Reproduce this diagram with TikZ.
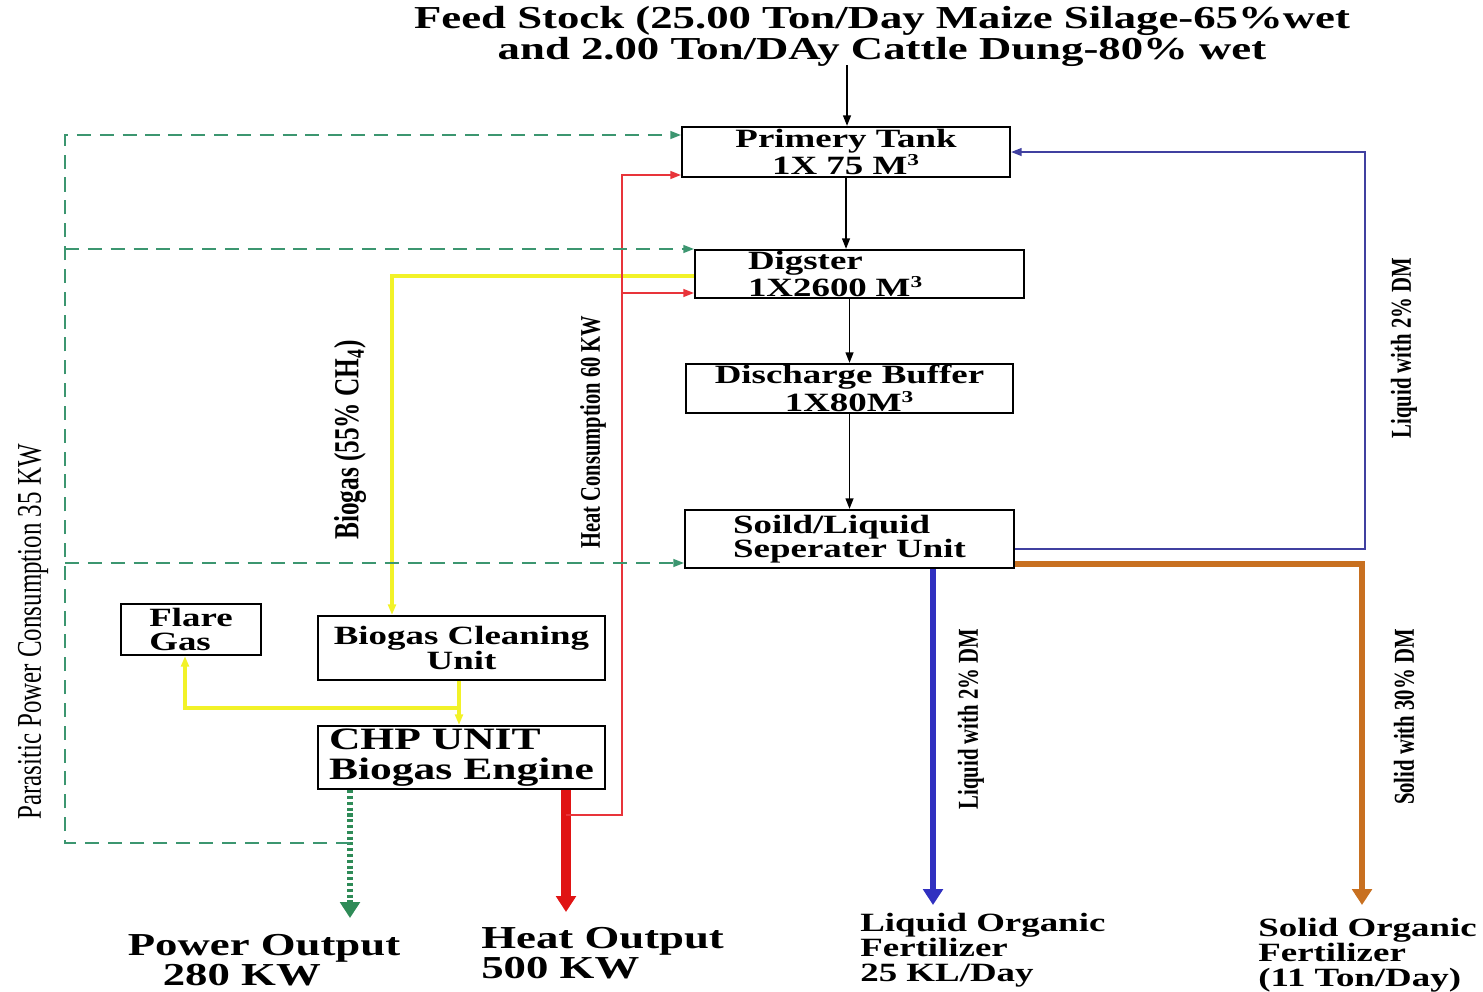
\documentclass[tikz,border=0pt]{standalone}
\usepackage{fontspec}
\usetikzlibrary{arrows.meta}
\newfontfamily\widefont[FakeStretch=1.4]{Liberation Serif}
\newfontfamily\tallfont[FakeStretch=0.72]{Liberation Serif}
\definecolor{powergreen}{RGB}{60,150,112}
\definecolor{dotgreen}{RGB}{46,139,87}
\definecolor{heatred}{RGB}{232,52,58}
\definecolor{hotred}{RGB}{224,20,20}
\definecolor{gasyellow}{RGB}{242,242,40}
\definecolor{backblue}{RGB}{64,64,160}
\definecolor{liqblue}{RGB}{48,48,192}
\definecolor{solidorange}{RGB}{200,112,32}
\newcommand{\cube}{\textsuperscript{\fontsize{9.5}{9}\selectfont 3}}

\begin{document}
\begin{tikzpicture}[x=0.02cm,y=-0.02cm]
    \tikzstyle{vessel}=[draw=black,line width=1.3pt,inner sep=0pt,font=\widefont\bfseries\fontsize{15}{13.8}\selectfont]
    \tikzstyle{flow}=[line width=0.85pt,-{Triangle[length=6pt,width=4.5pt]}]
    \tikzstyle{bigflow}=[-{Triangle[length=9pt,width=11pt]}]
    \tikzstyle{sidelabel}=[rotate=90,inner sep=0pt,font=\tallfont\bfseries\fontsize{16.4}{16}\selectfont]
    \tikzstyle{product}=[inner sep=0pt,align=left,font=\widefont\bfseries\fontsize{15}{14.2}\selectfont]
    \tikzstyle{powerline}=[flow,draw=powergreen,dash pattern=on 8pt off 5pt]
    \useasboundingbox (0,0) rectangle (1483,991);

    \node[font=\widefont\bfseries\fontsize{18.2}{15.4}\selectfont,align=center] (feed) at (882,36)
      {Feed Stock (25.00 Ton/Day Maize Silage-65\%wet\\and 2.00 Ton/DAy Cattle Dung-80\% wet};
    \coordinate (feedin) at (847,65);

    \node[vessel,minimum width=6.56cm,minimum height=1cm,align=center] (tank) at (846,152) {Primery Tank\\1X 75 M\cube};
    \node[vessel,minimum width=6.58cm,minimum height=0.96cm,text width=4.46cm,inner xsep=1.06cm,align=left] (dig) at (859.5,274) {Digster\\1X2600 M\cube};
    \node[vessel,minimum width=6.54cm,minimum height=0.98cm,align=center] (buf) at (849.5,388.5) {Discharge Buffer\\1X80M\cube};
    \node[vessel,minimum width=6.58cm,minimum height=1.16cm,align=left] (sep) at (849.5,539) {Soild/Liquid\\Seperater Unit};
    \node[vessel,minimum width=2.8cm,minimum height=1.02cm,align=left] (flare) at (191,629.5) {Flare\\Gas};
    \node[vessel,minimum width=5.74cm,minimum height=1.28cm,align=center] (clean) at (461.5,648) {Biogas Cleaning\\Unit};
    \node[vessel,minimum width=5.74cm,minimum height=1.26cm,align=left,font=\widefont\bfseries\fontsize{17.7}{17}\selectfont] (chp) at (461.5,757.5) {CHP UNIT\\Biogas Engine};

    % main line
    \draw[flow] (feedin) -- (feedin |- tank.north);
    \draw[flow] (tank.south) -- (tank.south |- dig.north);
    \draw[flow] (buf.north |- dig.south) -- (buf.north);
    \draw[flow] (buf.south) -- (sep.north);
    \draw[flow,draw=backblue] (sep.east |- 0,549) -- (1365,549) -- (1365,152) -- (tank.east);

    % products
    \coordinate (liquidout) at (933,905);
    \coordinate (solidout) at (1362,905);
    \coordinate (powerout) at (350,918);
    \coordinate (heatout) at (566,912);
    \draw[bigflow,line width=3.2pt,draw=liqblue] (sep.south -| liquidout) -- (liquidout);
    \draw[bigflow,line width=3.8pt,draw=solidorange] (sep.east |- 0,564) -- (solidout |- 0,564) -- (solidout);
    \draw[bigflow,line width=3.3pt,draw=dotgreen,dash pattern=on 1.8pt off 1.5pt] (chp.south -| powerout) -- (powerout);
    \draw[bigflow,line width=6pt,draw=hotred] (chp.south -| heatout) -- (heatout);

    % gas
    \draw[flow,line width=2.2pt,draw=gasyellow] (dig.west |- 0,276) -- (392,276) -- (clean.north -| 392,0);
    \draw[flow,line width=2.2pt,draw=gasyellow] (clean.south -| 459,0) -- (chp.north -| 459,0);
    \draw[flow,line width=2.2pt,draw=gasyellow] (459,708) -- (185,708) -- (flare.south -| 185,0);

    % heat back to tanks
    \draw[flow,draw=heatred] (heatout |- 0,815) -- (622,815) -- (622,175) -- (tank.west |- 0,175);
    \draw[flow,draw=heatred] (622,293) -- (dig.west |- 0,293);

    % parasitic power
    \coordinate (tap) at (350,843);
    \draw[powerline] (tap) -- (65,843) -- (65,135) -- (tank.west |- 0,135);
    \draw[powerline] (65,249) -- (dig.west |- 0,249);
    \draw[powerline] (65,563) -- (sep.west |- 0,563);

    \node[sidelabel,font=\tallfont\bfseries\fontsize{20}{20}\selectfont] (gaslabel) at (350,440) {Biogas (55\% CH\textsubscript{4})};
    \node[sidelabel,font=\tallfont\bfseries\fontsize{16.2}{16}\selectfont] (heatlabel) at (593,432) {Heat Consumption 60 KW};
    \node[sidelabel,font=\tallfont\fontsize{19.7}{19}\selectfont] (powerlabel) at (33,632) {Parasitic Power Consumption 35 KW};
    \node[sidelabel] (backlabel) at (1404,348) {Liquid with 2\% DM};
    \node[sidelabel] (liquidlabel) at (971,719) {Liquid with 2\% DM};
    \node[sidelabel] (solidlabel) at (1404,717) {Solid with 30\% DM};

    \node[product,font=\widefont\bfseries\fontsize{18.2}{15.6}\selectfont] (power) at (264,960) {Power Output\\\hspace*{0.7cm}280 KW};
    \node[product,anchor=west,font=\widefont\bfseries\fontsize{18.2}{15.6}\selectfont] (heat) at (481,953) {Heat Output\\500 KW};
    \node[product,anchor=west] (liquid) at (860,950) {Liquid Organic\\Fertilizer\\25 KL/Day};
    \node[product,anchor=west] (solid) at (1258,955) {Solid Organic\\Fertilizer\\(11 Ton/Day)};
\end{tikzpicture}
\end{document}
